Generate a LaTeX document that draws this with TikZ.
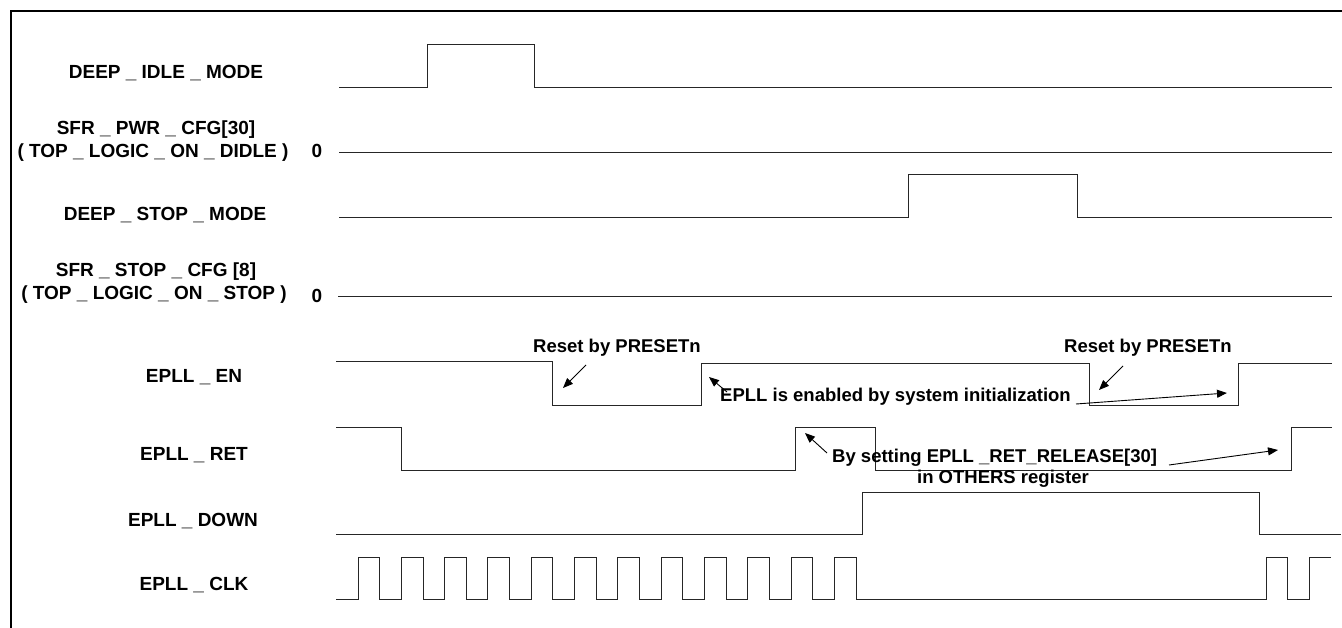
\documentclass[tikz,border=0pt]{standalone}
\usepackage{fontspec}
\setmainfont{Liberation Sans}
\usetikzlibrary{arrows.meta}
\begin{document}
\begin{tikzpicture}[x=1pt,y=-1pt,
  sig/.style={draw=black!85, line width=1pt},
  lbl/.style={font=\fontsize{19}{22}\selectfont\bfseries, inner sep=0pt, anchor=base},
  note/.style={font=\fontsize{18.5}{22}\selectfont\bfseries, inner sep=0pt, anchor=base west},
  pointer/.style={line width=0.9pt, -{Triangle[length=10pt,width=8pt]}}]
\useasboundingbox (0,0) rectangle (1342,628);
% frame
\draw[line width=2pt] (1342,11) -- (11,11) -- (11,628);

% signal names
\node[lbl] (idle) at (166,79) {DEEP \_ IDLE \_ MODE};
\node[lbl] (pwr) at (156,135) {SFR \_ PWR \_ CFG[30]};
\node[lbl] (pwrb) at (153,158) {( TOP \_ LOGIC \_ ON \_ DIDLE )};
\node[lbl] (pwrz) at (317,158) {0};
\node[lbl] (stop) at (165,221) {DEEP \_ STOP \_ MODE};
\node[lbl] (scfg) at (156,277) {SFR \_ STOP \_ CFG [8]};
\node[lbl] (scfgb) at (154,300) {( TOP \_ LOGIC \_ ON \_ STOP )};
\node[lbl] (scfgz) at (317,303) {0};
\node[lbl] (en) at (194,383) {EPLL \_ EN};
\node[lbl] (ret) at (194,460) {EPLL \_ RET};
\node[lbl] (down) at (193,526) {EPLL \_ DOWN};
\node[lbl] (clk) at (194,590) {EPLL \_ CLK};

% waveforms
\draw[sig] (339,88) -- (427,88) -- (427,45) -- (534,45) -- (534,88) -- (1332,88);
\draw[sig] (339,153) -- (1332,153);
\draw[sig] (339,218) -- (908,218) -- (908,175) -- (1077,175) -- (1077,218) -- (1332,218);
\draw[sig] (338,297) -- (1332,297);
\draw[sig] (336,362) -- (552,362) -- (552,405) -- (701,405) -- (701,364) -- (1089,364)
  -- (1089,405) -- (1238,405) -- (1238,364) -- (1332,364);
\draw[sig] (336,427) -- (401,427) -- (401,470) -- (795,470) -- (795,427) -- (875,427)
  -- (875,470) -- (1291,470) -- (1291,427) -- (1332,427);
\draw[sig] (336,534) -- (862,534) -- (862,492) -- (1259,492) -- (1259,534) -- (1341,534);
% clock
\draw[sig] (336,599) \foreach \k in {0,...,11} {
    -- ({358+43.3*\k},599) -- ++(0,-42) -- ++(21.7,0) -- ++(0,42) }
  -- (1266,599) -- (1266,557) -- (1287,557) -- (1287,599) -- (1309,599) -- (1309,557) -- (1331,557);

% notes
\node[note, anchor=base] (rsta) at (617,353) {Reset by PRESETn};
\node[note, anchor=base] (rstb) at (1148,353) {Reset by PRESETn};
\node[note] (init) at (720,402) {EPLL is enabled by system initialization};
\node[note] (rel) at (832,462) {By setting EPLL \_RET\_RELEASE[30]};
\node[note, anchor=base] (oth) at (1003,483) {in OTHERS register};

\coordinate (rsta1) at (586,365); \coordinate (rsta2) at (563,388);
\coordinate (rstb1) at (1123,366); \coordinate (rstb2) at (1099,390);
\coordinate (inita) at (727,392); \coordinate (initb) at (709,377);
\coordinate (initc) at (1076,404); \coordinate (initd) at (1227,393);
\coordinate (rela) at (827,453); \coordinate (relb) at (805,433);
\coordinate (relc) at (1169,465); \coordinate (reld) at (1278,450);

\draw[pointer] (rsta1) -- (rsta2);
\draw[pointer] (rstb1) -- (rstb2);
\draw[pointer] (inita) -- (initb);
\draw[pointer] (initc) -- (initd);
\draw[pointer] (rela) -- (relb);
\draw[pointer] (relc) -- (reld);
\end{tikzpicture}
\end{document}
